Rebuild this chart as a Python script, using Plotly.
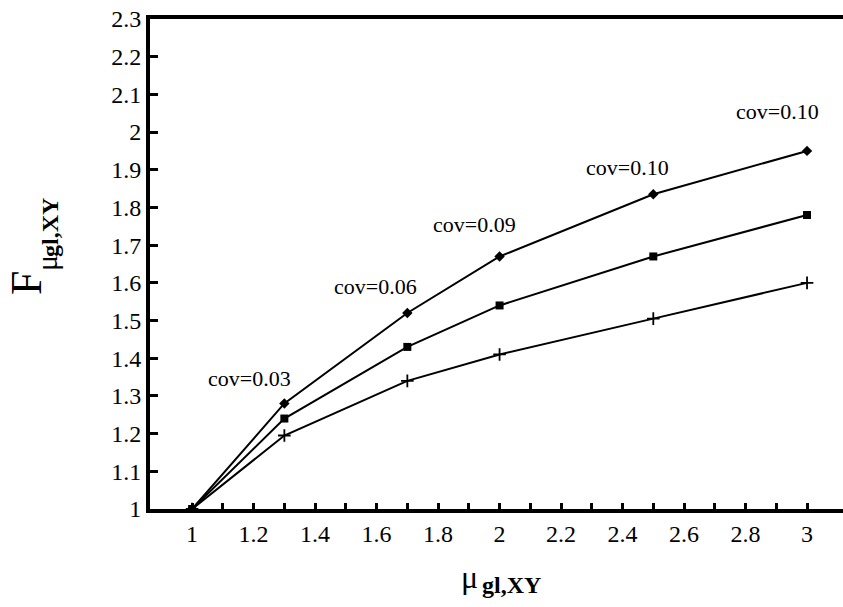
import plotly.graph_objects as go

mu = [1.0, 1.3, 1.7, 2.0, 2.5, 3.0]
f_top = [1.0, 1.28, 1.52, 1.67, 1.835, 1.95]
f_mid = [1.0, 1.24, 1.43, 1.54, 1.67, 1.78]
f_low = [1.0, 1.195, 1.34, 1.41, 1.505, 1.60]
cov_labels = ["cov=0.03", "cov=0.06", "cov=0.09", "cov=0.10", "cov=0.10"]
cov_x = [1.188, 1.595, 1.917, 2.415, 2.903]
cov_y = [1.345, 1.59, 1.754, 1.906, 2.054]

x_tickvals = [round(1.0 + 0.1 * i, 1) for i in range(21)]
x_ticktext = ["1", "", "1.2", "", "1.4", "", "1.6", "", "1.8", "", "2", "",
              "2.2", "", "2.4", "", "2.6", "", "2.8", "", "3"]
y_tickvals = [round(1.0 + 0.1 * i, 1) for i in range(14)]
y_ticktext = ["1", "1.1", "1.2", "1.3", "1.4", "1.5", "1.6", "1.7", "1.8",
              "1.9", "2", "2.1", "2.2", "2.3"]

FONT = "Liberation Serif, Times New Roman, serif"

fig = go.Figure()
fig.add_trace(go.Scatter(x=mu, y=f_low, mode="lines+markers",
                         line=dict(color="black", width=2),
                         marker=dict(symbol="cross-thin", size=9, color="black",
                                     line=dict(color="black", width=1.8))))
fig.add_trace(go.Scatter(x=mu, y=f_mid, mode="lines+markers",
                         line=dict(color="black", width=2),
                         marker=dict(symbol="square", size=8, color="black")))
fig.add_trace(go.Scatter(x=mu, y=f_top, mode="lines+markers",
                         line=dict(color="black", width=2),
                         marker=dict(symbol="diamond", size=8, color="black")))

for t, ax, ay in zip(cov_labels, cov_x, cov_y):
    fig.add_annotation(x=ax, y=ay, text=t, showarrow=False,
                       font=dict(family=FONT, size=22, color="black"))

# axis titles (built from pieces: main symbol + subscripts)
def title_piece(text, dx, dy, size, angle=0):
    fig.add_annotation(xref="paper", yref="paper", x=0, y=0,
                       xshift=dx, yshift=dy, text=text, showarrow=False,
                       textangle=angle, xanchor="center", yanchor="middle",
                       font=dict(family=FONT, size=size, color="black"))

# x title: mu_{gl,XY}
title_piece("μ", 469 - 150, 509 - 577, 32)
title_piece("<b>gl,XY</b>", 511 - 150, 509 - 585, 24)
# y title: F_{mu gl,XY}
title_piece("F", 26 - 150, 509 - 283, 44, -90)
title_piece("μ", 46 - 150, 509 - 263, 30, -90)
title_piece("<b>gl,XY</b>", 50 - 150, 509 - 228, 24, -90)

fig.update_layout(
    width=843, height=607,
    margin=dict(l=150, r=0, t=19, b=98, autoexpand=False),
    paper_bgcolor="white", plot_bgcolor="white",
    showlegend=False,
    font=dict(family=FONT, size=24, color="black"),
)
fig.update_xaxes(range=[0.863, 3.117], tickmode="array",
                 tickvals=x_tickvals, ticktext=x_ticktext,
                 ticks="inside", ticklen=6, tickwidth=3, tickcolor="black",
                 showline=True, linewidth=4, linecolor="black", mirror=True,
                 showgrid=False, zeroline=False, automargin=False,
                 tickfont=dict(family=FONT, size=24, color="black"))
fig.update_yaxes(range=[1.0, 2.3], tickmode="array",
                 tickvals=y_tickvals, ticktext=y_ticktext,
                 ticks="inside", ticklen=8, tickwidth=3, tickcolor="black",
                 showline=True, linewidth=4, linecolor="black", mirror=False,
                 showgrid=False, zeroline=False, automargin=False,
                 tickfont=dict(family=FONT, size=24, color="black"))

fig.write_html("out.html", config={"displayModeBar": False},
               post_script="document.body.style.margin='0';document.body.style.overflow='hidden';")
